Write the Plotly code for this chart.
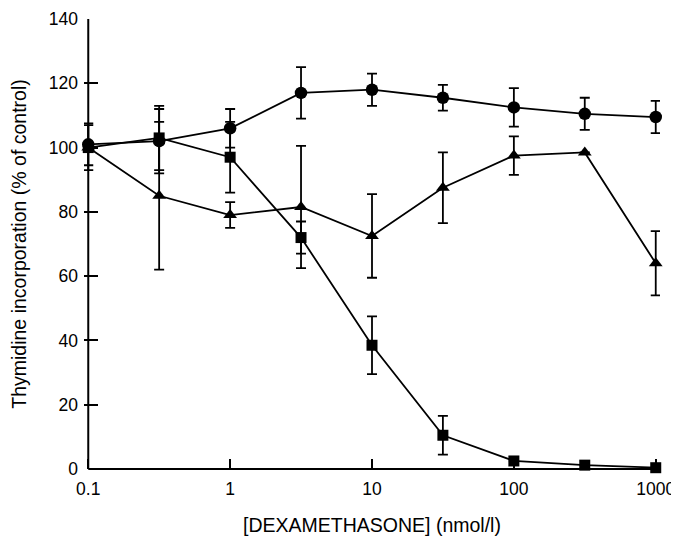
import plotly.graph_objects as go

dose = [0.1, 0.316, 1, 3.16, 10, 31.6, 100, 316, 1000]

circle_vals = [101, 102, 106, 117, 118, 115.5, 112.5, 110.5, 109.5]
circle_err = [6.5, 10, 6, 8, 5, 4, 6, 5, 5]

triangle_vals = [100, 85, 79, 81.5, 72.5, 87.5, 97.5, 98.5, 64]
triangle_err = [0, 23, 4, 19, 13, 11, 6, 0, 10]

square_vals = [100, 103, 97, 72, 38.5, 10.5, 2.5, 1.2, 0.4]
square_err = [7, 10, 11, 5, 9, 6, 0, 0, 0]

x_ticks = [0.1, 1, 10, 100, 1000]
x_tick_labels = ["0.1", "1", "10", "100", "1000"]
y_ticks = [0, 20, 40, 60, 80, 100, 120, 140]

FONT = "Liberation Sans, Arial, sans-serif"

# log range padded slightly so error-bar caps at the ends are not clipped
X_LO, X_HI = -1.03, 3.03
span = X_HI - X_LO
px0 = (-1 - X_LO) / span
px1 = (3 - X_LO) / span

def series(y, err, symbol, size):
    return go.Scatter(
        x=dose, y=y, mode="lines+markers",
        line=dict(color="black", width=1.8),
        marker=dict(symbol=symbol, size=size, color="black"),
        error_y=dict(type="data", array=err, visible=True, color="black",
                     thickness=1.8, width=5),
        cliponaxis=False, showlegend=False,
    )

fig = go.Figure()
fig.add_trace(series(square_vals, square_err, "square", 11))
fig.add_trace(series(triangle_vals, triangle_err, "triangle-up", 12))
fig.add_trace(series(circle_vals, circle_err, "circle", 12.5))

# axis lines starting at 0.1 / ending at 1000
fig.add_shape(type="line", xref="paper", yref="paper", x0=px0, x1=px0, y0=0, y1=1,
              line=dict(color="black", width=2))
fig.add_shape(type="line", xref="paper", yref="paper", x0=px0, x1=px1, y0=0, y1=0,
              line=dict(color="black", width=2))

fig.update_layout(
    width=671, height=528,
    margin=dict(l=76, r=19, t=11, b=67),
    paper_bgcolor="white", plot_bgcolor="white",
    font=dict(family=FONT, size=17.5, color="black"),
    xaxis=dict(
        type="log", range=[X_LO, X_HI], automargin=False,
        tickvals=x_ticks, ticktext=x_tick_labels,
        ticks="inside", ticklen=10, tickwidth=1.5, tickcolor="black",
        ticklabelstandoff=7, ticklabeloverflow="allow",
        showline=False, showgrid=False, zeroline=False,
        title=dict(text="[DEXAMETHASONE] (nmol/l)", font=dict(size=19.5), standoff=22),
    ),
    yaxis=dict(
        range=[0, 140], automargin=False,
        tickvals=y_ticks,
        ticks="inside", ticklen=14, tickwidth=1.5, tickcolor="black",
        ticklabelstandoff=5, ticklabeloverflow="allow",
        showline=False, showgrid=False, zeroline=False,
        title=dict(text="Thymidine incorporation (% of control)", font=dict(size=19.5), standoff=18),
    ),
)

fig.write_html("out.html")
